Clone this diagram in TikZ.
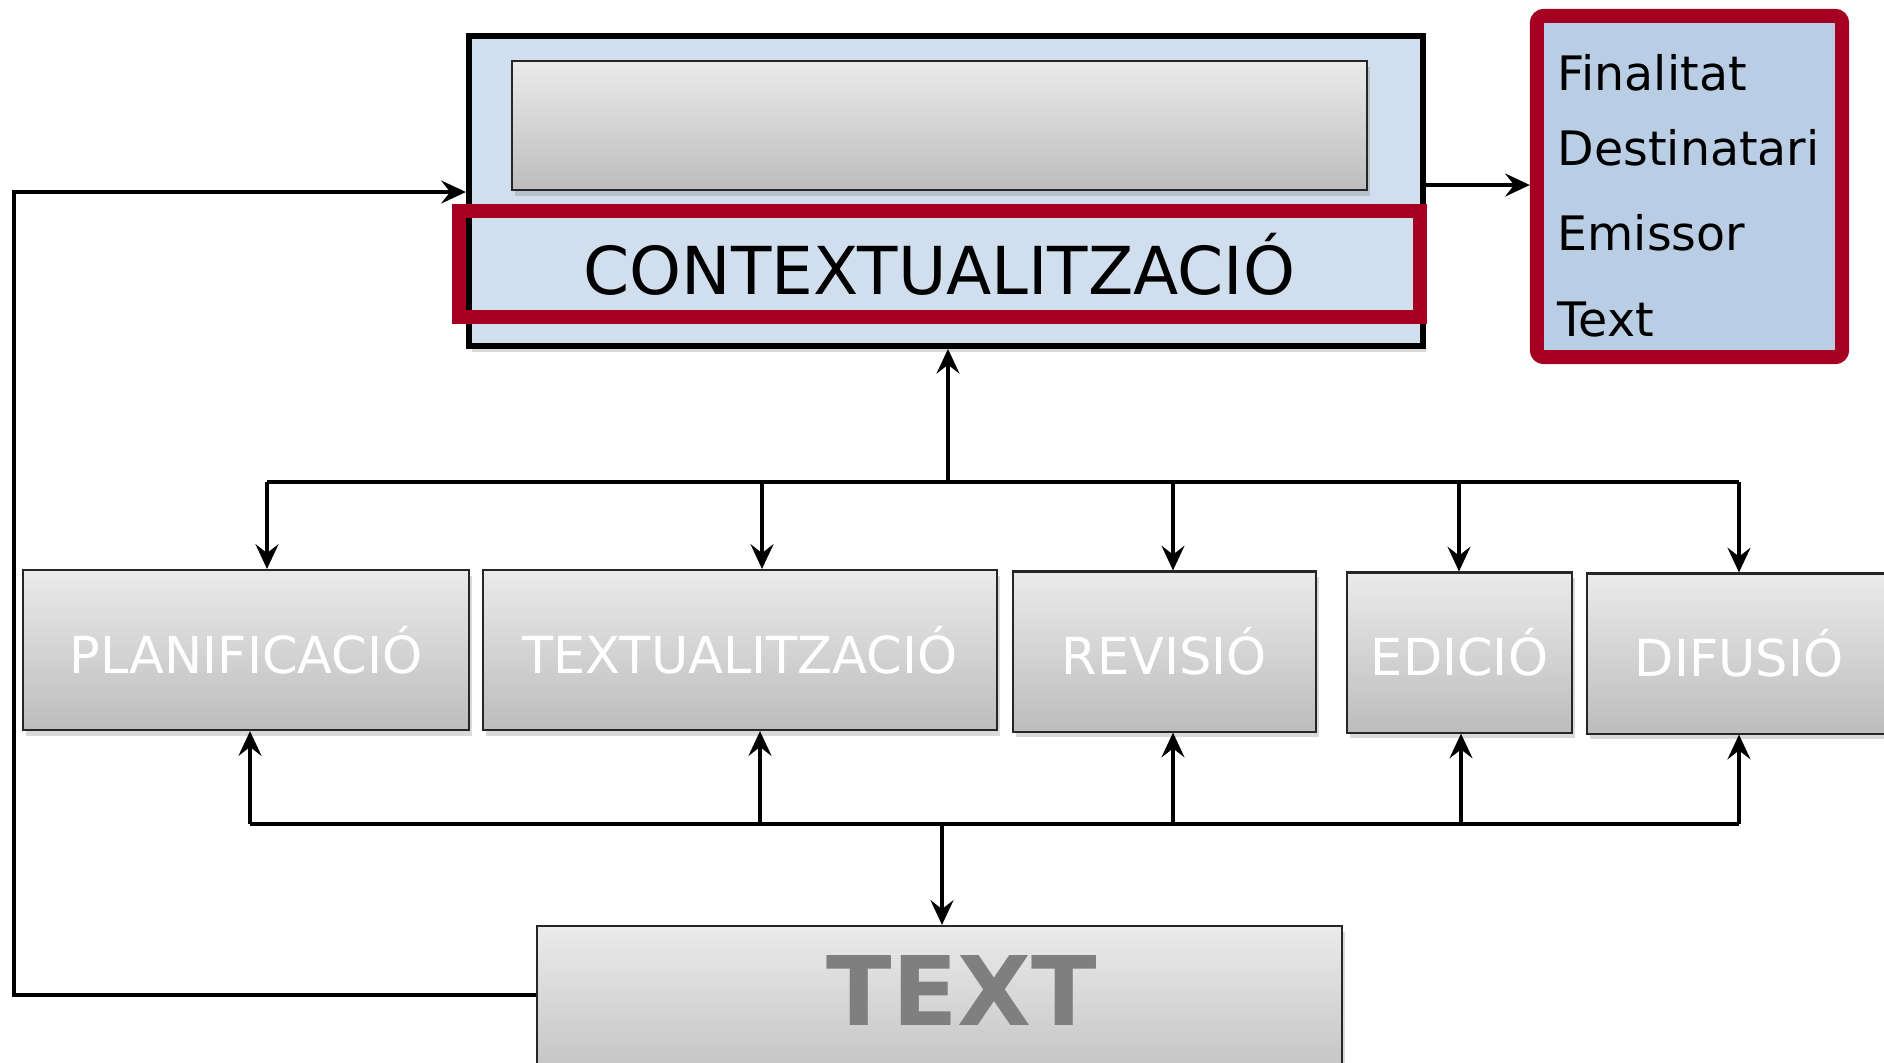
\documentclass[tikz,border=0pt]{standalone}
\usepackage{fontspec}
\setmainfont{DejaVu Sans}
\usetikzlibrary{arrows.meta,shadows}
\definecolor{ctxblue}{RGB}{208,222,238}
\definecolor{listblue}{RGB}{185,205,228}
\definecolor{wine}{RGB}{165,0,33}
\definecolor{labelgray}{RGB}{127,127,127}
\tikzset{
  softshadow/.style={drop shadow={opacity=0.3,shadow xshift=0.8pt,shadow yshift=-1.6pt}},
  graybox/.style={draw=black!85,line width=0.6pt,top color=black!8,bottom color=black!26,
    inner sep=0pt,softshadow},
  phase/.style={graybox,minimum height=1.6cm,text=white,font=\fontsize{14.5}{16}\selectfont},
  item/.style={anchor=base west,inner sep=0pt,font=\fontsize{13.5}{15}\selectfont},
  arr/.style={line width=1.4pt,-{Stealth[length=7pt,width=6.5pt,inset=2.5pt]}},
  bus/.style={line width=1.4pt}
}
\begin{document}
\begin{tikzpicture}[x=0.01cm,y=-0.01cm]
    \clip (0,0) rectangle (1884,1062);
    %% context block
    \node[draw,line width=1.6pt,fill=ctxblue,minimum width=9.54cm,minimum height=3.1cm,softshadow] (ctx) at (946,191) {};
    \node[graybox,minimum width=8.55cm,minimum height=1.29cm] (inner) at (939.5,125.5) {};
    \node[draw=wine,line width=4pt,minimum width=9.61cm,minimum height=1.06cm,
          font=\fontsize{18.8}{20}\selectfont] (red) at (939.5,264) {CONTEXTUALITZACIÓ};
    %% list on the right
    \node[draw=wine,fill=listblue,line width=4pt,rounded corners=2pt,minimum width=3.05cm,
          minimum height=3.41cm,softshadow] (list) at (1689.5,186.5) {};
    \node[item] (fin) at (1557,90) {Finalitat};
    \node[item] (dest) at (1557,165) {Destinatari};
    \node[item] (emi) at (1557,250) {Emissor};
    \node[item] (txt) at (1557,336) {Text};
    \draw[arr] (ctx.east |- 0,185) -- (list.west |- 0,185);
    %% phases
    \node[phase,minimum width=4.46cm] (plan) at (246,650) {PLANIFICACIÓ};
    \node[phase,minimum width=5.14cm] (textu) at (740,650) {TEXTUALITZACIÓ};
    \node[phase,minimum width=3.03cm] (rev) at (1164.5,651.5) {REVISIÓ};
    \node[phase,minimum width=2.25cm] (edi) at (1459.5,652.5) {EDICIÓ};
    \node[phase,minimum width=3.04cm] (dif) at (1739,653.5) {DIFUSIÓ};
    %% text block (cut by the page)
    \node[graybox,minimum width=8.05cm,minimum height=1.74cm] (textbox) at (939.5,1013) {};
    \node[text=labelgray,font=\bfseries\fontsize{27.3}{28}\selectfont,inner sep=0pt] (textlbl) at (962,990) {TEXT};
    %% top bus
    \coordinate (t0) at (948,482);
    \coordinate (t1) at (267,482);
    \coordinate (t2) at (762,482);
    \coordinate (t3) at (1173,482);
    \coordinate (t4) at (1459,482);
    \coordinate (t5) at (1739,482);
    \draw[bus] (t1) -- (t5);
    \draw[arr] (t0) -- (t0 |- ctx.south);
    \draw[arr] (t1) -- (t1 |- plan.north);
    \draw[arr] (t2) -- (t2 |- textu.north);
    \draw[arr] (t3) -- (t3 |- rev.north);
    \draw[arr] (t4) -- (t4 |- edi.north);
    \draw[arr] (t5) -- (t5 |- dif.north);
    %% bottom bus
    \coordinate (b0) at (942,824);
    \coordinate (b1) at (250,824);
    \coordinate (b2) at (760,824);
    \coordinate (b3) at (1173,824);
    \coordinate (b4) at (1461,824);
    \coordinate (b5) at (1739,824);
    \draw[bus] (b1) -- (b5);
    \draw[arr] (b0) -- (b0 |- textbox.north);
    \draw[arr] (b1) -- (b1 |- plan.south);
    \draw[arr] (b2) -- (b2 |- textu.south);
    \draw[arr] (b3) -- (b3 |- rev.south);
    \draw[arr] (b4) -- (b4 |- edi.south);
    \draw[arr] (b5) -- (b5 |- dif.south);
    %% feedback loop
    \coordinate (lb) at (14,995);
    \coordinate (lt) at (14,192);
    \draw[arr] (textbox.west |- lb) -- (lb) -- (lt) -- (lt -| ctx.west);
\end{tikzpicture}
\end{document}
